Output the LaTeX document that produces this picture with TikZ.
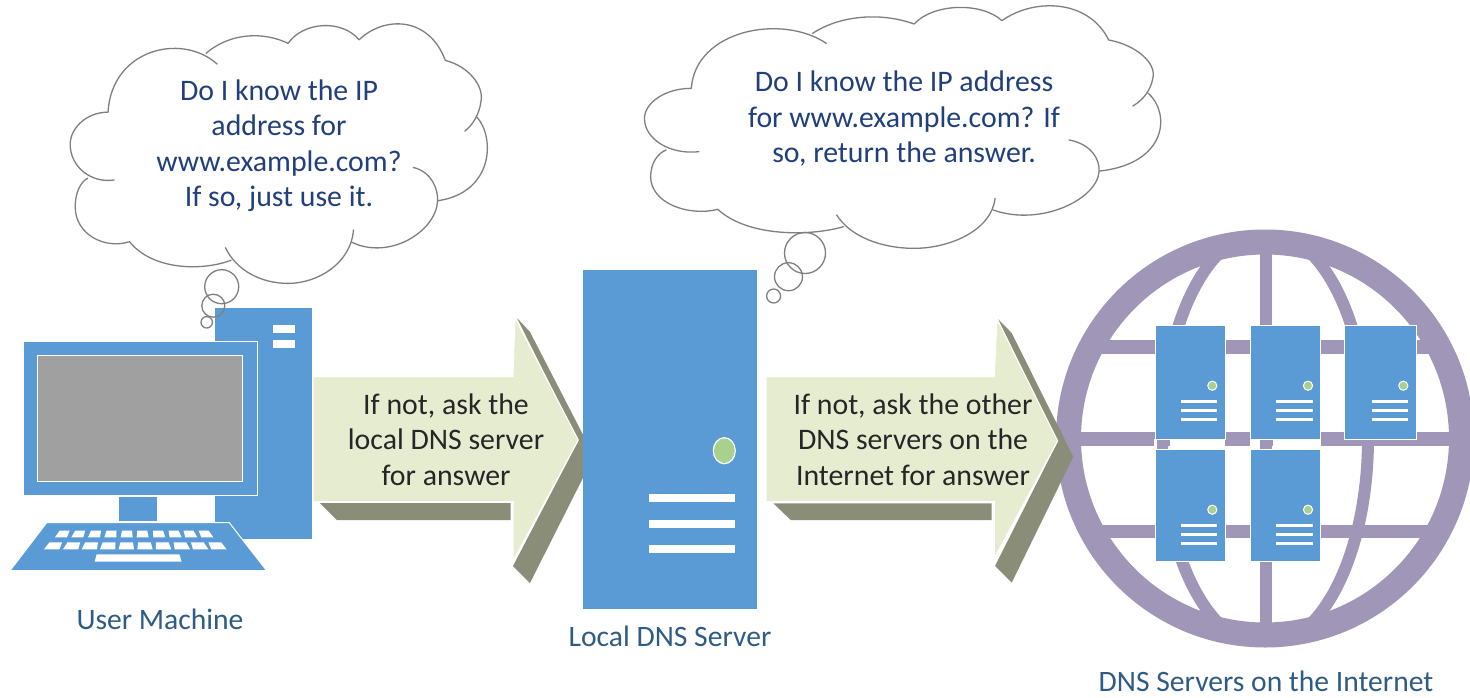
\documentclass[tikz,border=0pt]{standalone}
\usepackage{fontspec}
\setmainfont{Carlito}
\definecolor{blueA}{HTML}{5B9BD5}
\definecolor{purpleA}{HTML}{9F96B8}
\definecolor{paleA}{HTML}{E6ECD0}
\definecolor{darkA}{HTML}{8A8E78}
\definecolor{greenA}{HTML}{A9D18E}
\definecolor{cloudtxt}{HTML}{203F7C}
\definecolor{labeltxt}{HTML}{2F5C85}
\definecolor{arrowtxt}{HTML}{262626}
\definecolor{screenA}{HTML}{A0A0A0}
\definecolor{cloudline}{HTML}{7F7F7F}
\tikzset{
  txtbase/.style={inner sep=0pt,align=center,font=\fontsize{29.8}{35.5}\selectfont},
  cloudtext/.style={txtbase,text=cloudtxt},
  arrowtext/.style={txtbase,text=arrowtxt},
  caption/.style={inner sep=0pt,font=\fontsize{29.6}{34}\selectfont,text=labeltxt},
  cloudstroke/.style={draw=cloudline,line width=1.3pt},
  blueshape/.style={fill=blueA,draw=white,line width=1pt},
  arrowface/.style={fill=paleA,draw=white,line width=1pt},
  arrowshade/.style={fill=darkA},
  globeline/.style={draw=purpleA},
}
\newcommand{\cloudoutline}{%
  \draw[cloudstroke,line cap=round]
    (178,265) .. controls (190,90) and (440,40) .. (570,130)
    (530,100) .. controls (620,40) and (740,40) .. (825,72)
    (825,72) .. controls (880,10) and (1020,5) .. (1080,62)
    (1080,62) .. controls (1170,-5) and (1330,-5) .. (1390,120)
    (1390,120) .. controls (1470,135) and (1530,190) .. (1518,235) .. controls (1512,270) and (1490,300) .. (1460,318)
    (1505,280) .. controls (1570,340) and (1560,490) .. (1365,513)
    (1275,420) .. controls (1340,432) and (1365,480) .. (1362,515) .. controls (1355,600) and (1190,680) .. (1055,630)
    (1060,595) .. controls (1050,690) and (930,745) .. (825,745) .. controls (730,745) and (640,710) .. (600,645)
    (620,680) .. controls (520,710) and (340,710) .. (255,628)
    (255,628) .. controls (170,650) and (60,610) .. (60,530) .. controls (60,490) and (80,460) .. (105,450)
    (200,455) .. controls (120,465) and (42,420) .. (42,355) .. controls (42,310) and (100,265) .. (178,265);
}
% left, top, width, height
\newcommand{\srv}[4]{%
  \begin{scope}[shift={(#1,#2)}]
    \path[blueshape] (0,0) rectangle (#3,#4);
    \path[fill=greenA,draw=white,line width=1pt] ({#3-12.7},60.7) circle (4.6);
    \foreach \dy in {76.7,85.3,94}{
      \fill[white] ({#3-44.3},\dy-1.5) rectangle ({#3-7.7},\dy+1.5);
    }
  \end{scope}
}
\begin{document}
\begin{tikzpicture}[x=1pt,y=-1pt]
\useasboundingbox (0,0) rectangle (1470,697);
\fill[white] (0,0) rectangle (1470,697);

% globe
\begin{scope}
  \clip (1265,438.5) circle (200);
  \fill[purpleA] (1060,340.2) rectangle (1470,353.8);
  \fill[purpleA] (1060,432.2) rectangle (1470,445.8);
  \fill[purpleA] (1060,524.5) rectangle (1470,537.5);
  \fill[purpleA] (1260,230) rectangle (1272,650);
  \draw[globeline,line width=12pt] (1265,438.5) ellipse (103 and 207);
\end{scope}
\draw[globeline,line width=25pt] (1265,438.5) circle (196.5);

% arrow 1
\fill[arrowshade] (320,503) -- (337,520) -- (510.7,520) -- (510.7,503) -- cycle;
\fill[arrowshade] (517,318) -- (530,332) -- (594,456) -- (578.3,441) -- cycle;
\fill[arrowshade] (578.3,441) -- (594,456) -- (530,583) -- (513,566) -- cycle;
\path[arrowface] (313,376.7) -- (513,376.7) -- (515,318) -- (578.3,440) -- (513,561) -- (513,501.5) -- (313,501.5) -- cycle;
\node[arrowtext] (askone) at (446,439.5) {If not, ask the\\local DNS server\\for answer};

% arrow 2
\fill[arrowshade] (773.3,503.3) -- (790.7,520) -- (991.7,520) -- (991.7,503.3) -- cycle;
\fill[arrowshade] (998,319) -- (1011.7,333) -- (1073.3,456.7) -- (1057.7,441.7) -- cycle;
\fill[arrowshade] (1057.7,441.7) -- (1073.3,456.7) -- (1011.7,582.7) -- (995,566) -- cycle;
\path[arrowface] (766,376.7) -- (994.3,376.7) -- (997,319) -- (1057.7,441) -- (994.3,558) -- (994.3,501.5) -- (766,501.5) -- cycle;
\node[arrowtext] (asktwo) at (913,439.5) {If not, ask the other\\DNS servers on the\\Internet for answer};

% internet servers
\fill[white] (1170,439) rectangle (1225,449);
\fill[white] (1154,439) rectangle (1157,449);
\fill[white] (1250,439) rectangle (1260,449);
\fill[white] (1273,439) rectangle (1321,449);
\srv{1155}{325}{70}{114}
\srv{1250}{325}{70.7}{114}
\srv{1344}{325}{72}{114}
\srv{1155}{449}{70}{112.7}
\srv{1250}{449}{70.7}{112.7}

% local DNS server
\fill[blueA] (582.7,270) rectangle (756.7,609);
\path[fill=greenA,draw=white,line width=1.2pt] (724.3,450.7) ellipse (11 and 13);
\foreach \ly in {497.7,523.7,549.3}{
  \fill[white] (649,\ly-4) rectangle (735,\ly+4);
}

% user machine
\fill[blueA] (215,308) rectangle (311.7,539.3);
\fill[white] (272.7,325) rectangle (295,333.3);
\fill[white] (272.7,340) rectangle (295,347.7);
\path[blueshape] (23.3,341.7) rectangle (257.7,495.7);
\path[fill=screenA,draw=white,line width=1.2pt] (37.3,355.7) rectangle (242.3,481.7);
\fill[blueA] (118.7,497.3) rectangle (157,521);
\path[blueshape] (46.7,522.7) -- (229.3,522.7) -- (266.7,570.7) -- (10,570.7) -- cycle;
\begin{scope}[shift={(0,290)},scale=1/3]
  \foreach \c in {183,232,282,331,380,428,478,527,574,622}{
    \fill[white] ({402+(\c-402)*.95-15},722) -- ({402+(\c-402)*.95+15},722) -- ({\c+18},742) -- ({\c-18},742) -- cycle;
  }
  \foreach \c in {155,212,268,323,379,435,491,547,602,657}{
    \fill[white] ({402+(\c-402)*.95-19},757) -- ({402+(\c-402)*.95+19},757) -- ({\c+23},778) -- ({\c-23},778) -- cycle;
  }
  \fill[white] (290,793) -- (538,793) -- (545,815) -- (284,815) -- cycle;
\end{scope}

% clouds
\begin{scope}[shift={(630,0)},xscale=.3444,yscale=1/3]
  \cloudoutline
\end{scope}
\begin{scope}[shift={(58.5,17.65)},xscale=.2783,yscale=.3567]
  \cloudoutline
\end{scope}
\draw[cloudstroke] (221.7,286.7) circle (17);
\draw[cloudstroke] (213.3,305.7) circle (11.5);
\draw[cloudstroke] (206.7,322.3) circle (5.7);
\draw[cloudstroke] (805,253) circle (20.5);
\draw[cloudstroke] (788.5,276.7) circle (14);
\draw[cloudstroke] (773.6,296) circle (7);
\node[cloudtext] (thinkone) at (279,145.5) {Do I know the IP\\address for\\www.example.com?\\If so, just use it.};
\node[cloudtext] (thinktwo) at (904,119) {Do I know the IP address\\for www.example.com? If\\so, return the answer.};

% captions
\node[caption] (usercap) at (160,619) {User Machine};
\node[caption] (localcap) at (670,636) {Local DNS Server};
\node[caption] (netcap) at (1266,681) {DNS Servers on the Internet};
\end{tikzpicture}
\end{document}
